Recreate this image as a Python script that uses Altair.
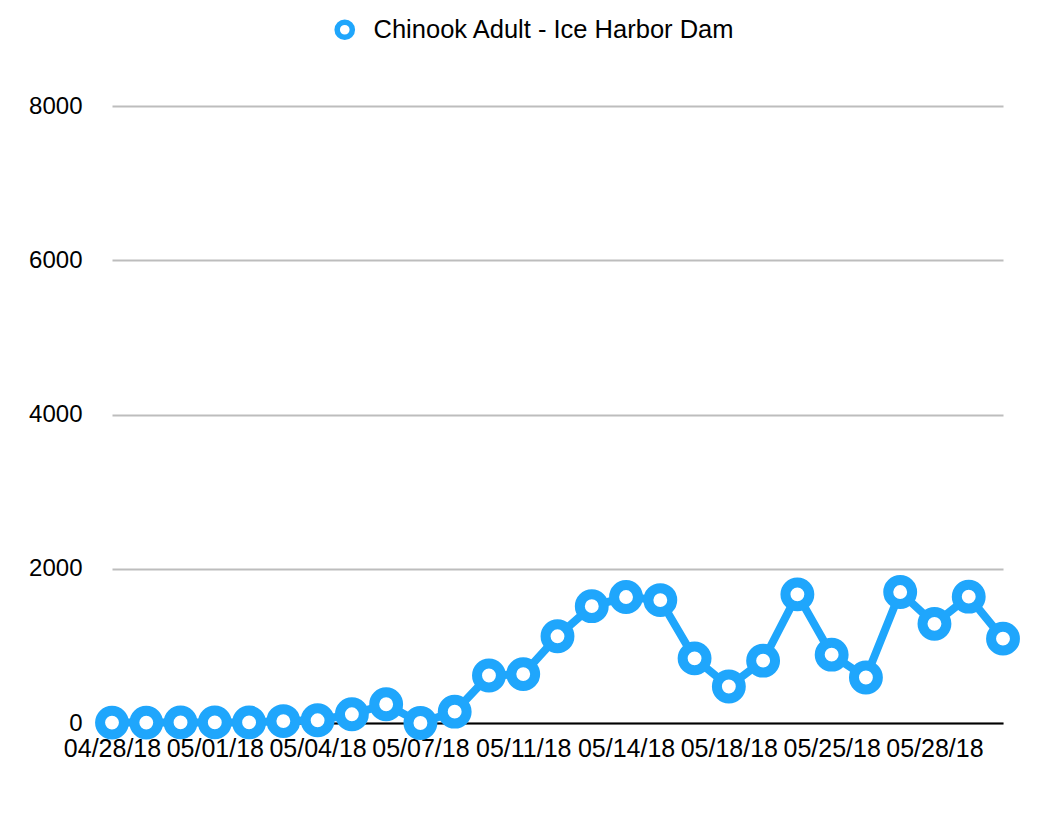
import altair as alt
import pandas as pd

dates = ["04/28/18", "04/29/18", "04/30/18", "05/01/18", "05/02/18", "05/03/18",
         "05/04/18", "05/05/18", "05/06/18", "05/07/18", "05/09/18", "05/10/18",
         "05/11/18", "05/12/18", "05/13/18", "05/14/18", "05/15/18", "05/16/18",
         "05/18/18", "05/20/18", "05/22/18", "05/25/18", "05/26/18", "05/27/18",
         "05/28/18", "05/29/18", "05/30/18"]
counts = [5, 5, 8, 8, 8, 25, 35, 113, 243, 0, 147, 616, 634, 1124, 1515, 1633,
          1594, 838, 473, 808, 1668, 886, 590, 1698, 1286, 1638, 1094]
shown_labels = ["04/28/18", "05/01/18", "05/04/18", "05/07/18", "05/11/18",
                "05/14/18", "05/18/18", "05/25/18", "05/28/18"]
series_name = "Chinook Adult - Ice Harbor Dam"
y_ticks = [0, 2000, 4000, 6000, 8000]

df = pd.DataFrame({"date": dates, "count": counts, "series": series_name})

BLUE = "#1FA6FC"
FONT = "Liberation Sans"

chart = alt.Chart(df).mark_line(
    strokeWidth=8,
    point=alt.OverlayMarkDef(filled=False, fill="white", size=570, strokeWidth=10, opacity=1),
).encode(
    x=alt.X("date:O", sort=dates, scale=alt.Scale(padding=0),
            axis=alt.Axis(title=None, values=shown_labels, labelAngle=0, ticks=False,
                          domainColor="black", domainWidth=2, labelFontSize=25,
                          labelPadding=13, labelColor="black", grid=False,
                          labelFont=FONT, labelOverlap=False)),
    y=alt.Y("count:Q", scale=alt.Scale(domain=[0, 8000], nice=False),
            axis=alt.Axis(title=None, values=y_ticks, ticks=False, domain=False,
                          format="d",
                          gridColor="#BDBDBD", gridWidth=2, labelFontSize=24,
                          labelPadding=30, labelColor="black", labelFont=FONT)),
    color=alt.Color("series:N", scale=alt.Scale(range=[BLUE]),
                    legend=alt.Legend(title=None, orient="none", legendX=220, legendY=-89,
                                      symbolType="circle", symbolFillColor="white",
                                      symbolStrokeWidth=5.5, symbolSize=230,
                                      labelFontSize=25.5, labelFont=FONT, labelLimit=0,
                                      labelColor="black", labelOffset=16)),
).properties(
    width=891, height=617,
    autosize="none",
    padding={"left": 104, "top": 98, "right": 40, "bottom": 80},
).configure_view(stroke=None)

chart.save("out.html", embed_options={"renderer": "svg", "actions": False})
